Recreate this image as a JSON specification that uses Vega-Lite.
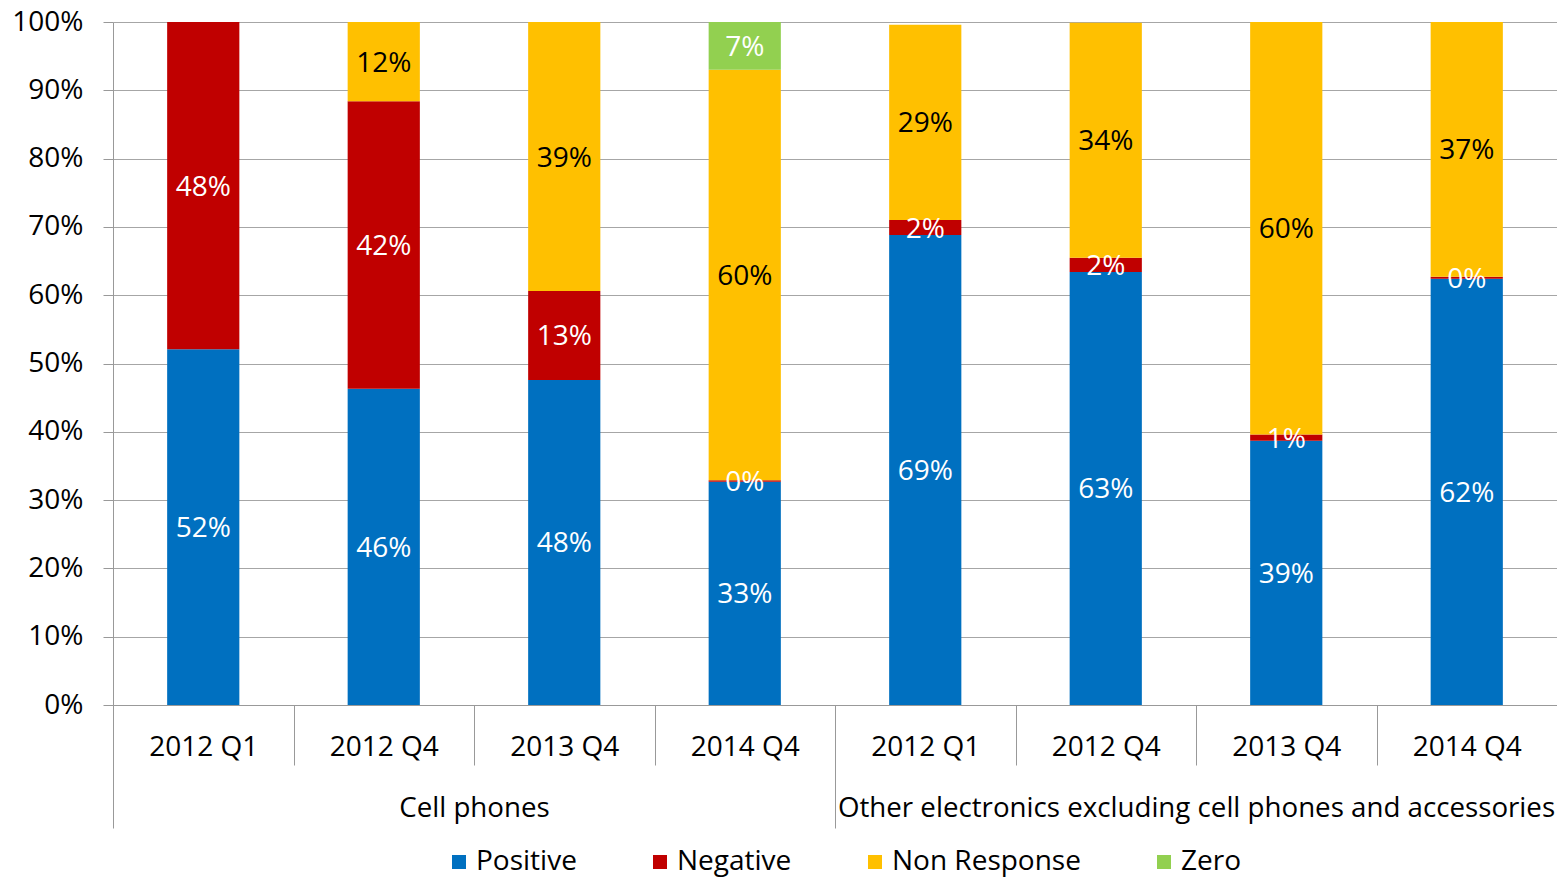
{
  "$schema": "https://vega.github.io/schema/vega-lite/v6.json",
  "autosize": "none",
  "width": 1444,
  "height": 683,
  "padding": {"left": 113, "top": 22, "right": 0, "bottom": 173},
  "background": "white",
  "config": {
    "font": "Open Sans",
    "view": {"stroke": null},
    "axis": {"labelColor": "black", "labelFont": "Open Sans", "labelFontSize": 28, "domainColor": "#999999", "tickColor": "#999999"},
    "legend": {"labelFont": "Open Sans", "labelLimit": 0}
  },
  "data": {
    "values": [
      {"group": "Cell phones", "key": "Cell phones 2012 Q1", "series": "Positive", "rank": 1, "share": 0.521},
      {"group": "Cell phones", "key": "Cell phones 2012 Q1", "series": "Negative", "rank": 2, "share": 0.479},
      {"group": "Cell phones", "key": "Cell phones 2012 Q4", "series": "Positive", "rank": 1, "share": 0.463},
      {"group": "Cell phones", "key": "Cell phones 2012 Q4", "series": "Negative", "rank": 2, "share": 0.421},
      {"group": "Cell phones", "key": "Cell phones 2012 Q4", "series": "Non Response", "rank": 3, "share": 0.116},
      {"group": "Cell phones", "key": "Cell phones 2013 Q4", "series": "Positive", "rank": 1, "share": 0.476},
      {"group": "Cell phones", "key": "Cell phones 2013 Q4", "series": "Negative", "rank": 2, "share": 0.130},
      {"group": "Cell phones", "key": "Cell phones 2013 Q4", "series": "Non Response", "rank": 3, "share": 0.394},
      {"group": "Cell phones", "key": "Cell phones 2014 Q4", "series": "Positive", "rank": 1, "share": 0.327},
      {"group": "Cell phones", "key": "Cell phones 2014 Q4", "series": "Negative", "rank": 2, "share": 0.002},
      {"group": "Cell phones", "key": "Cell phones 2014 Q4", "series": "Non Response", "rank": 3, "share": 0.601},
      {"group": "Cell phones", "key": "Cell phones 2014 Q4", "series": "Zero", "rank": 4, "share": 0.070},
      {"group": "Other electronics excluding cell phones and accessories", "key": "Other electronics 2012 Q1", "series": "Positive", "rank": 1, "share": 0.688},
      {"group": "Other electronics excluding cell phones and accessories", "key": "Other electronics 2012 Q1", "series": "Negative", "rank": 2, "share": 0.022},
      {"group": "Other electronics excluding cell phones and accessories", "key": "Other electronics 2012 Q1", "series": "Non Response", "rank": 3, "share": 0.286},
      {"group": "Other electronics excluding cell phones and accessories", "key": "Other electronics 2012 Q4", "series": "Positive", "rank": 1, "share": 0.634},
      {"group": "Other electronics excluding cell phones and accessories", "key": "Other electronics 2012 Q4", "series": "Negative", "rank": 2, "share": 0.021},
      {"group": "Other electronics excluding cell phones and accessories", "key": "Other electronics 2012 Q4", "series": "Non Response", "rank": 3, "share": 0.344},
      {"group": "Other electronics excluding cell phones and accessories", "key": "Other electronics 2013 Q4", "series": "Positive", "rank": 1, "share": 0.387},
      {"group": "Other electronics excluding cell phones and accessories", "key": "Other electronics 2013 Q4", "series": "Negative", "rank": 2, "share": 0.009},
      {"group": "Other electronics excluding cell phones and accessories", "key": "Other electronics 2013 Q4", "series": "Non Response", "rank": 3, "share": 0.604},
      {"group": "Other electronics excluding cell phones and accessories", "key": "Other electronics 2014 Q4", "series": "Positive", "rank": 1, "share": 0.624},
      {"group": "Other electronics excluding cell phones and accessories", "key": "Other electronics 2014 Q4", "series": "Negative", "rank": 2, "share": 0.003},
      {"group": "Other electronics excluding cell phones and accessories", "key": "Other electronics 2014 Q4", "series": "Non Response", "rank": 3, "share": 0.373}
    ]
  },
  "layer": [
    {
      "layer": [
        {
          "mark": {"type": "bar", "width": {"band": 0.4}},
          "encoding": {
            "x": {
              "field": "key", "type": "nominal", "sort": null,
              "scale": {"paddingInner": 0, "paddingOuter": 0},
              "axis": {"title": null, "orient": "bottom", "labelAngle": 0, "labelExpr": "slice(datum.label, -7)", "tickBand": "extent", "tickSize": 60, "labelPadding": -32, "grid": false}
            },
            "y": {
              "field": "share", "type": "quantitative", "stack": "zero",
              "scale": {"domain": [0, 1]},
              "axis": {"title": null, "format": ".0%", "values": [0, 0.1, 0.2, 0.3, 0.4, 0.5, 0.6, 0.7, 0.8, 0.9, 1], "tickSize": 10, "labelPadding": 20, "grid": true, "gridColor": "#a6a6a6"}
            },
            "order": {"field": "rank", "type": "quantitative", "sort": "ascending"},
            "color": {
              "field": "series", "type": "nominal",
              "sort": ["Positive", "Negative", "Non Response", "Zero"],
              "scale": {"range": ["#0070C0", "#C00000", "#FFC000", "#92D050"]},
              "legend": {"title": null, "orient": "none", "legendX": 332, "legendY": 826, "direction": "horizontal", "symbolType": "square", "symbolSize": 196, "symbolStrokeWidth": 0, "labelFontSize": 28, "labelColor": "black", "labelOffset": 3, "columnPadding": 69}
            }
          }
        },
        {
          "mark": {"type": "text", "fontSize": 28, "dy": 2},
          "encoding": {
            "x": {"field": "key", "type": "nominal", "sort": null},
            "y": {"field": "share", "type": "quantitative", "stack": "zero", "bandPosition": 0.5},
            "order": {"field": "rank", "type": "quantitative", "sort": "ascending"},
            "text": {"field": "share", "type": "quantitative", "format": ".0%"},
            "color": {
              "field": "series", "type": "nominal",
              "sort": ["Positive", "Negative", "Non Response", "Zero"],
              "scale": {"range": ["white", "white", "black", "white"]},
              "legend": null
            }
          }
        }
      ],
      "resolve": {"scale": {"color": "independent"}}
    },
    {
      "mark": {"type": "rule", "strokeOpacity": 0},
      "encoding": {
        "x": {
          "field": "group", "type": "nominal", "sort": null,
          "scale": {"paddingInner": 0, "paddingOuter": 0},
          "axis": {"title": null, "orient": "bottom", "labelAngle": 0, "tickBand": "extent", "tickSize": 123, "labelPadding": -34, "labelLimit": 0, "labelFontSize": 27.7, "domain": false, "grid": false}
        }
      }
    }
  ],
  "resolve": {"scale": {"x": "independent"}, "axis": {"x": "independent"}}
}
